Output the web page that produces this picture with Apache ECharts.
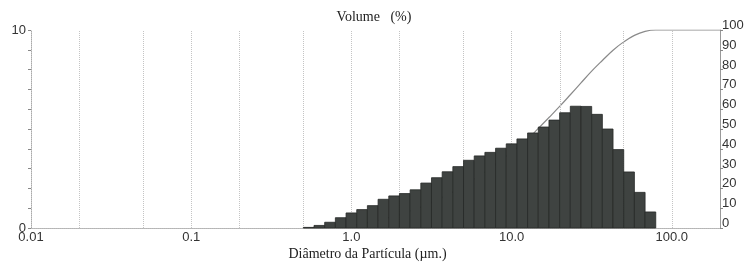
<!DOCTYPE html>
<html>
<head>
<meta charset="utf-8">
<script src="https://cdn.jsdelivr.net/npm/echarts@6/dist/echarts.min.js"></script>
<style>
html, body { margin: 0; padding: 0; background: #fff; }
#main { width: 748px; height: 269px; }
</style>
</head>
<body>
<div id="main"></div>
<script>
// bin centres (µm), 15 bins per decade
var binCenters = [0.5412, 0.6310, 0.7356, 0.8577, 1.0, 1.166, 1.359, 1.585, 1.848, 2.154,
    2.512, 2.929, 3.415, 3.981, 4.642, 5.412, 6.310, 7.356, 8.577, 10.0,
    11.66, 13.59, 15.85, 18.48, 21.54, 25.12, 29.29, 34.15, 39.81, 46.42,
    54.12, 63.10, 73.56];
// volume (%) per bin
var volume = [0.03, 0.13, 0.29, 0.52, 0.76, 0.93, 1.13, 1.45, 1.62, 1.74,
    1.93, 2.27, 2.54, 2.84, 3.10, 3.42, 3.64, 3.82, 4.03, 4.25,
    4.50, 4.80, 5.10, 5.45, 5.82, 6.15, 6.14, 5.74, 5.00, 3.96,
    2.83, 1.80, 0.81];
// cumulative curve (right axis)
var cumSize = [0.501, 0.584, 0.681, 0.794, 0.926, 1.080, 1.259, 1.468, 1.711, 1.995,
    2.326, 2.712, 3.162, 3.687, 4.299, 5.012, 5.843, 6.813, 7.943, 9.261,
    10.80, 12.59, 14.68, 17.11, 19.95, 23.26, 27.12, 31.62, 36.87, 42.99,
    50.12, 58.43, 68.13, 79.43, 100, 200];
var cumValue = [0, 0.03, 0.16, 0.45, 0.97, 1.73, 2.66, 3.79, 5.24, 6.86,
    8.6, 10.53, 12.8, 15.34, 18.18, 21.28, 24.7, 28.34, 32.16, 36.19,
    40.44, 44.94, 50.3, 55.8, 61.4, 67.3, 73.3, 79.2, 84.6, 89.8,
    94.0, 97.3, 99.3, 100, 100, 100];
var xTickValues = [0.01, 0.1, 1, 10, 100];
var xTickLabels = ['0.01', '0.1', '1.0', '10.0', '100.0'];
var gridValues = [0.02, 0.05, 0.1, 0.2, 0.5, 1, 2, 5, 10, 20, 50, 100];
var rightTicks = [0, 10, 20, 30, 40, 50, 60, 70, 80, 90, 100];

var chart = echarts.init(document.getElementById('main'));
var halfStep = Math.pow(10, 1 / 30);

var barData = [];
for (var i = 0; i < binCenters.length; i++) barData.push([binCenters[i], volume[i]]);
var cumData = [];
for (var j = 0; j < cumSize.length; j++) cumData.push([cumSize[j], cumValue[j]]);
var gridLines = gridValues.map(function (v) { return { xAxis: v }; });

function xLabel(v) {
    for (var k = 0; k < xTickValues.length; k++) {
        if (Math.abs(v - xTickValues[k]) < xTickValues[k] * 1e-6) return xTickLabels[k];
    }
    return '';
}

var option = {
    animation: false,
    title: {
        text: 'Volume   (%)',
        left: 'center',
        top: 5,
        textStyle: { fontFamily: 'Liberation Serif', fontSize: 14, fontWeight: 'normal', color: '#222' }
    },
    grid: { left: 31, right: 28, top: 30, bottom: 41 },
    xAxis: [
        {
            type: 'log',
            logBase: 10,
            min: 0.01,
            max: 200,
            name: 'Diâmetro da Partícula (µm.)',
            nameLocation: 'middle',
            nameGap: 19,
            nameMoveOverlap: false,
            nameTextStyle: { fontFamily: 'Liberation Serif', fontSize: 14, color: '#222', padding: [0, 16, 0, 0] },
            axisLine: { lineStyle: { color: '#aaa', width: 1 } },
            axisTick: { show: false },
            splitLine: { show: false },
            axisLabel: {
                margin: 3,
                fontFamily: 'Liberation Sans',
                fontSize: 13,
                color: '#333',
                formatter: xLabel
            }
        },
        {
            type: 'log',
            logBase: 10,
            min: 0.01,
            max: 200,
            position: 'top',
            axisLine: { lineStyle: { color: '#bbb', type: 'dotted' } },
            axisTick: { show: false },
            axisLabel: { show: false },
            splitLine: { show: false }
        }
    ],
    yAxis: [
        {
            type: 'value',
            min: 0,
            max: 10,
            interval: 1,
            axisLine: { show: true, lineStyle: { color: '#aaa', type: 'dotted' } },
            axisTick: { show: true, length: 3, lineStyle: { color: '#888' } },
            splitLine: { show: false },
            axisLabel: {
                margin: 5,
                fontFamily: 'Liberation Sans',
                fontSize: 13,
                color: '#333',
                padding: [0, 0, 4, 0],
                formatter: function (v) { return (v === 0 || v === 10) ? String(v) : ''; }
            }
        },
        {
            type: 'value',
            position: 'right',
            min: rightTicks[0],
            max: rightTicks[rightTicks.length - 1],
            interval: 10,
            axisLine: { show: true, lineStyle: { color: '#999' } },
            axisTick: { show: true, length: 3, lineStyle: { color: '#888' } },
            splitLine: { show: false },
            axisLabel: {
                margin: 2,
                fontFamily: 'Liberation Sans',
                fontSize: 13,
                color: '#333',
                verticalAlign: 'bottom',
                padding: [0, 0, -2, 0]
            }
        }
    ],
    series: [
        {
            type: 'line',
            xAxisIndex: 0,
            yAxisIndex: 1,
            data: cumData,
            smooth: 0.4,
            showSymbol: false,
            z: 2,
            lineStyle: { color: '#8a8a8a', width: 1.2 },
            markLine: {
                silent: true,
                symbol: 'none',
                label: { show: false },
                lineStyle: { color: '#c4c4c4', type: 'dotted', width: 1 },
                data: gridLines
            }
        },
        {
            type: 'custom',
            xAxisIndex: 0,
            yAxisIndex: 0,
            z: 10,
            data: barData,
            encode: { x: 0, y: 1 },
            renderItem: function (params, api) {
                var d = api.value(0);
                var h = api.value(1);
                var p0 = api.coord([d / halfStep, h]);
                var p1 = api.coord([d * halfStep, 0]);
                return {
                    type: 'rect',
                    shape: { x: p0[0], y: p0[1], width: p1[0] - p0[0], height: p1[1] - p0[1] },
                    style: { fill: '#3f4341', stroke: '#262827', lineWidth: 0.8 }
                };
            }
        }
    ]
};
chart.setOption(option);
</script>
</body>
</html>
